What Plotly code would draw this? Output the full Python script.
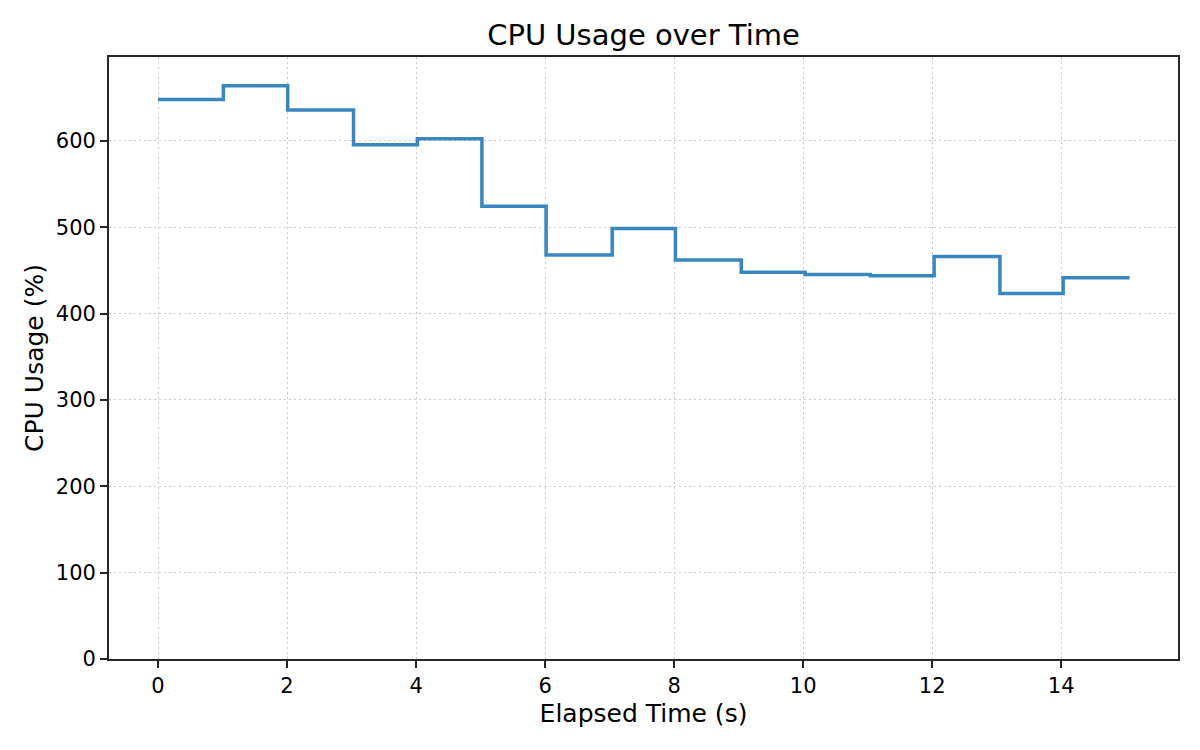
import plotly.graph_objects as go

# sample times (s) and CPU readings (%)
elapsed = [0, 1.013, 2.01, 3.03, 4.02, 5.02, 6.015, 7.04, 8.02,
           9.04, 10.03, 11.04, 12.03, 13.05, 14.03, 15.06]
cpu_usage = [647.9, 663.6, 635.6, 595.4, 602.3, 524.1, 467.8, 498.5, 462.0,
             447.7, 445.3, 443.8, 465.9, 423.3, 441.5, 441.5]

x_ticks = [0, 2, 4, 6, 8, 10, 12, 14]
y_ticks = [0, 100, 200, 300, 400, 500, 600]

font_family = "DejaVu Sans"
axis_color = "#262626"

# the page body adds an 8px margin, so the figure is drawn 8px smaller
fig_w, fig_h = 1192, 742

trace = go.Scatter(
    x=elapsed,
    y=cpu_usage,
    mode="lines",
    line=dict(shape="hv", color="#3a87bf", width=3.5),
    hoverinfo="x+y",
)

axis_common = dict(
    showline=True,
    mirror=True,
    linecolor=axis_color,
    linewidth=1.7,
    ticks="outside",
    ticklen=7,
    tickwidth=1.7,
    tickcolor=axis_color,
    showgrid=True,
    gridcolor="#cccccc",
    gridwidth=1.3,
    griddash="2px,3px",
    zeroline=False,
    tickfont=dict(family=font_family, size=21, color="black"),
)

layout = go.Layout(
    width=fig_w,
    height=fig_h,
    paper_bgcolor="white",
    plot_bgcolor="white",
    showlegend=False,
    margin=dict(l=101, r=22, t=49, b=91),
    title=dict(
        text="CPU Usage over Time",
        x=(101 + (fig_w - 22 - 101) / 2) / fig_w,
        xanchor="center",
        y=1 - 27 / fig_h,
        yanchor="middle",
        font=dict(family=font_family, size=29, color="black"),
    ),
    xaxis=dict(
        axis_common,
        range=[-0.76, 15.81],
        tickvals=x_ticks,
        title=dict(text="Elapsed Time (s)", standoff=7,
                   font=dict(family=font_family, size=25, color="black")),
    ),
    yaxis=dict(
        axis_common,
        range=[0, 697],
        tickvals=y_ticks,
        title=dict(text="CPU Usage (%)", standoff=5,
                   font=dict(family=font_family, size=25, color="black")),
    ),
)

fig = go.Figure(data=[trace], layout=layout)
fig.write_html("out.html")
